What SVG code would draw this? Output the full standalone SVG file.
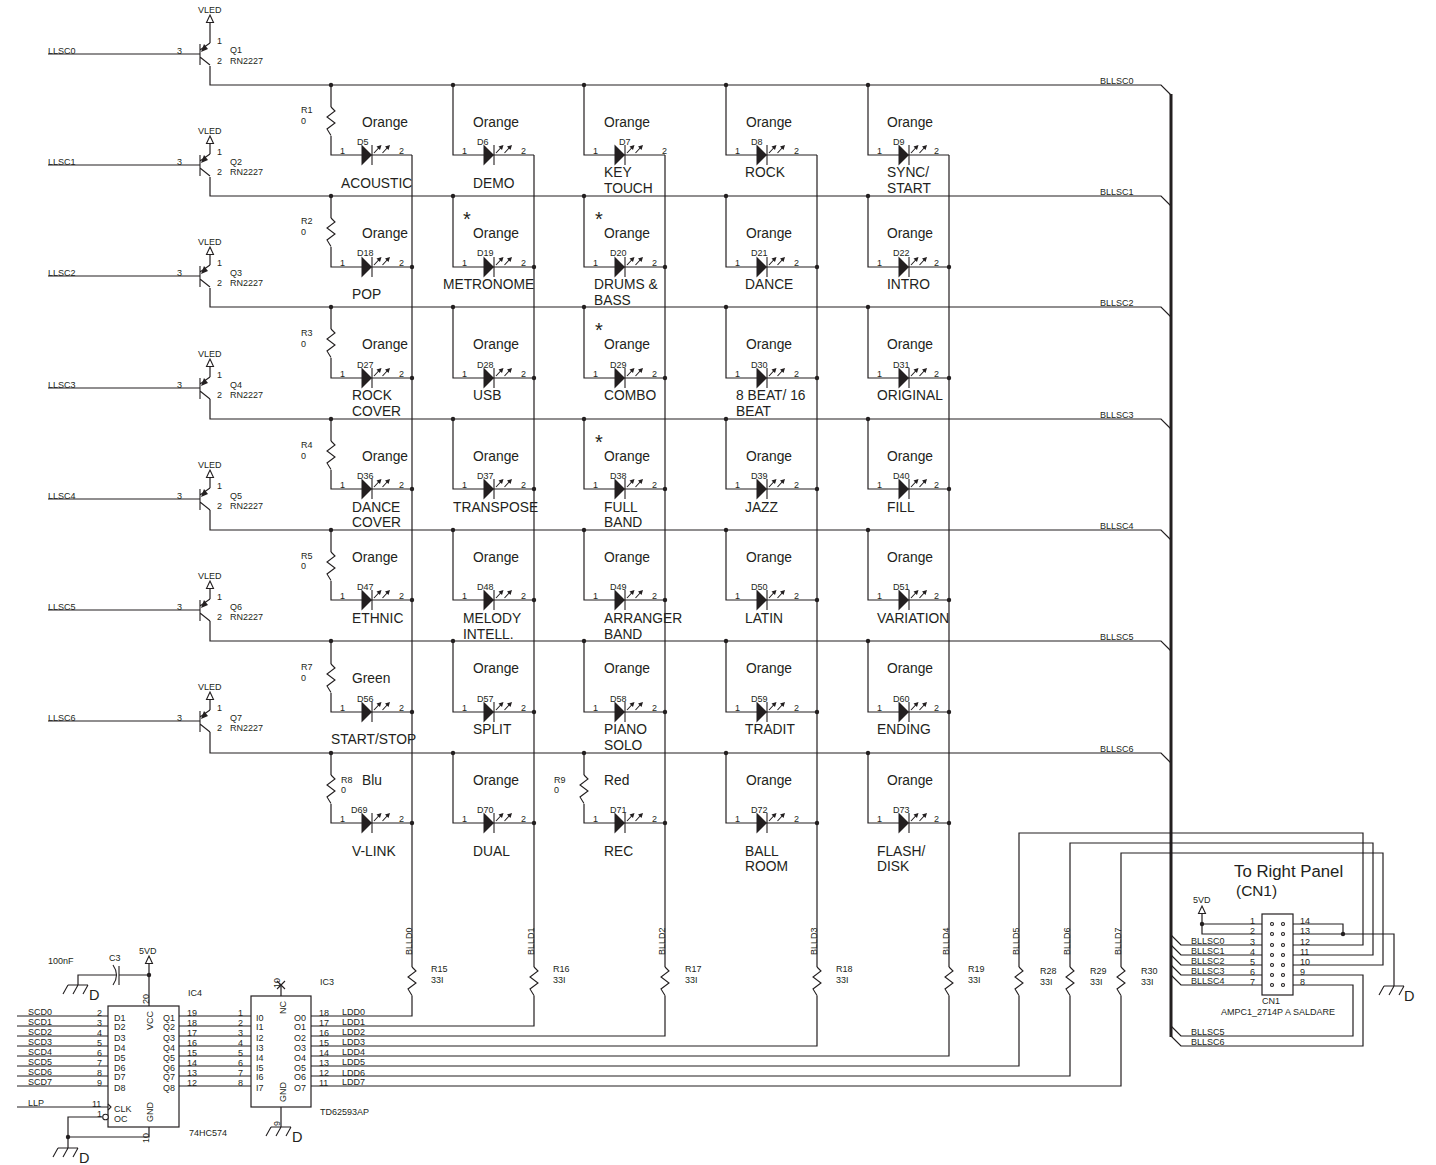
<svg xmlns="http://www.w3.org/2000/svg" width="1436" height="1165" viewBox="0 0 1436 1165">
<style>
text{font-family:"Liberation Sans",Arial,sans-serif;fill:#231f20;font-size:9px}
.l{font-size:13.8px}
.b{font-size:16.8px}
.c{font-size:15.4px}
.g{font-size:14.5px}
.st{font-size:20px}
.w,.w path{fill:none;stroke:#231f20;stroke-width:1.2}
.w path.bus{stroke-width:3}
.s{fill:none;stroke:#231f20;stroke-width:1.1}
.ic{fill:#fff;stroke:#231f20;stroke-width:1.2}
.dot{fill:#231f20}
</style>
<defs>
<g id="led"><polygon points="-0.500,-10.500 10,0 -0.500,10.500" fill="#231f20"/><path class="s" d="M10-10V10"/><path class="s" d="M12-2L18-8.500M20.500-2L26.500-8.500"/><path fill="#231f20" d="M19.500-10L14.500-8.500L18-5ZM28-10L23-8.500L26.500-5Z"/></g>
<path id="res" class="s" d="M0 0L4 4L-4 10L4 16L-4 22L0 28.5"/>
<g id="q"><path class="s" d="M0-10V11M0-4L10-11M0 3L10 11"/><polygon points="1,-2 4,-10 8,-5" fill="#231f20"/></g>
<polygon id="pwr" class="s" points="0,0 3.5,7.5 -3.5,7.5" style="fill:#fff"/>
<path id="gnd" class="s" d="M-10 0H10M-10 0L-15 9M0 0L-5 9M10 0L5 9"/>
<circle id="dot" class="dot" r="2.200"/>
</defs>

<g id="connectors" class="w">
<path d="M48 54H200M210 43V23"/>
<path d="M210 66V85H1161L1171 95"/><path d="M210 177V196H1161L1171 206"/><path d="M210 288V307H1161L1171 317"/><path d="M210 399V419H1161L1171 429"/><path d="M210 510V530H1161L1171 540"/><path d="M210 621V641H1161L1171 651"/><path d="M210 732V753H1161L1171 763"/>
<path d="M48 165H200M210 154V144M48 276H200M210 265V255M48 388H200M210 377V367M48 499H200M210 488V478M48 610H200M210 599V589M48 721H200M210 710V700"/>
<path class="bus" d="M1171 94V1037"/>
<path d="M331 85V107M331 136V155H412M331 196V218M331 247V267H412M331 307V329M331 358V378H412M331 419V441M331 470V489H412M331 530V552M331 581V600H412M331 641V664M331 693V712H412M331 753V775M331 804V823H412"/>
<path d="M453 85V155H534M453 196V267H534M453 307V378H534M453 419V489H534M453 530V600H534M453 641V712H534M453 753V823H534"/>
<path d="M584 85V155H665M584 196V267H665M584 307V378H665M584 419V489H665M584 530V600H665M584 641V712H665M584 753V775M584 804V823H665"/>
<path d="M726 85V155H817M726 196V267H817M726 307V378H817M726 419V489H817M726 530V600H817M726 641V712H817M726 753V823H817"/>
<path d="M868 85V155H949M868 196V267H949M868 307V378H949M868 419V489H949M868 530V600H949M868 641V712H949M868 753V823H949"/>
<path d="M412 155V967M412 995.5V1016H311"/>
<path d="M534 155V967M534 995.5V1026H311"/>
<path d="M665 155V967M665 995.5V1036H311"/>
<path d="M817 155V967M817 995.5V1046H311"/>
<path d="M949 155V967M949 995.5V1056H311"/>
<path d="M1019 967V833H1363V945H1293M1019 995.5V1066H311"/>
<path d="M1070 967V843H1373V955H1293M1070 995.5V1076H311"/>
<path d="M1121 967V853H1383V965H1293M1121 995.5V1086H311"/>
<path d="M17 1016H108M17 1026H108M17 1036H108M17 1046H108M17 1056H108M17 1066H108M17 1076H108M17 1086H108M17 1107H108"/>
<path d="M179 1016H251M179 1026H251M179 1036H251M179 1046H251M179 1056H251M179 1066H251M179 1076H251M179 1086H251"/>
<path d="M149 964V1006M78 985V975H116M119 975H149M102 1117H68V1148M68 1137H149V1127M281 985V996M281 1107V1127"/>
<path d="M1171 935L1181 945H1262M1171 945L1181 955H1262M1171 955L1181 965H1262M1171 965L1181 975H1262M1171 975L1181 985H1262"/>
<path d="M1171 1026L1181 1036H1353V985H1293M1171 1036L1181 1046H1363V975H1293"/>
<path d="M1202 913V934H1262M1202 924H1262M1293 924H1343V934M1293 934H1394V986"/>
</g>
<g id="junctions">
<use href="#dot" x="331" y="85"/><use href="#dot" x="453" y="85"/><use href="#dot" x="584" y="85"/><use href="#dot" x="726" y="85"/><use href="#dot" x="868" y="85"/>
<use href="#dot" x="331" y="196"/><use href="#dot" x="453" y="196"/><use href="#dot" x="584" y="196"/><use href="#dot" x="726" y="196"/><use href="#dot" x="868" y="196"/>
<use href="#dot" x="331" y="307"/><use href="#dot" x="453" y="307"/><use href="#dot" x="584" y="307"/><use href="#dot" x="726" y="307"/><use href="#dot" x="868" y="307"/>
<use href="#dot" x="331" y="419"/><use href="#dot" x="453" y="419"/><use href="#dot" x="584" y="419"/><use href="#dot" x="726" y="419"/><use href="#dot" x="868" y="419"/>
<use href="#dot" x="331" y="530"/><use href="#dot" x="453" y="530"/><use href="#dot" x="584" y="530"/><use href="#dot" x="726" y="530"/><use href="#dot" x="868" y="530"/>
<use href="#dot" x="331" y="641"/><use href="#dot" x="453" y="641"/><use href="#dot" x="584" y="641"/><use href="#dot" x="726" y="641"/><use href="#dot" x="868" y="641"/>
<use href="#dot" x="331" y="753"/><use href="#dot" x="453" y="753"/><use href="#dot" x="584" y="753"/><use href="#dot" x="726" y="753"/><use href="#dot" x="868" y="753"/>
<use href="#dot" x="412" y="267"/><use href="#dot" x="534" y="267"/><use href="#dot" x="665" y="267"/><use href="#dot" x="817" y="267"/><use href="#dot" x="949" y="267"/>
<use href="#dot" x="412" y="378"/><use href="#dot" x="534" y="378"/><use href="#dot" x="665" y="378"/><use href="#dot" x="817" y="378"/><use href="#dot" x="949" y="378"/>
<use href="#dot" x="412" y="489"/><use href="#dot" x="534" y="489"/><use href="#dot" x="665" y="489"/><use href="#dot" x="817" y="489"/><use href="#dot" x="949" y="489"/>
<use href="#dot" x="412" y="600"/><use href="#dot" x="534" y="600"/><use href="#dot" x="665" y="600"/><use href="#dot" x="817" y="600"/><use href="#dot" x="949" y="600"/>
<use href="#dot" x="412" y="712"/><use href="#dot" x="534" y="712"/><use href="#dot" x="665" y="712"/><use href="#dot" x="817" y="712"/><use href="#dot" x="949" y="712"/>
<use href="#dot" x="412" y="823"/><use href="#dot" x="534" y="823"/><use href="#dot" x="665" y="823"/><use href="#dot" x="817" y="823"/><use href="#dot" x="949" y="823"/>
<use href="#dot" x="149" y="975"/><use href="#dot" x="68" y="1137"/><use href="#dot" x="1202" y="924"/><use href="#dot" x="1343" y="934"/>
</g>
<g id="nets">
<text x="48" y="54">LLSC0</text><text x="48" y="165">LLSC1</text><text x="48" y="276">LLSC2</text><text x="48" y="388">LLSC3</text><text x="48" y="499">LLSC4</text><text x="48" y="610">LLSC5</text><text x="48" y="721">LLSC6</text>
<text x="1100" y="84">BLLSC0</text><text x="1100" y="195">BLLSC1</text><text x="1100" y="306">BLLSC2</text><text x="1100" y="418">BLLSC3</text><text x="1100" y="529">BLLSC4</text><text x="1100" y="640">BLLSC5</text><text x="1100" y="752">BLLSC6</text>
<text transform="translate(412 955) rotate(-90)">BLLD0</text><text transform="translate(534 955) rotate(-90)">BLLD1</text><text transform="translate(665 955) rotate(-90)">BLLD2</text><text transform="translate(817 955) rotate(-90)">BLLD3</text><text transform="translate(949 955) rotate(-90)">BLLD4</text><text transform="translate(1019 955) rotate(-90)">BLLD5</text><text transform="translate(1070 955) rotate(-90)">BLLD6</text><text transform="translate(1121 955) rotate(-90)">BLLD7</text>
</g>

<g id="Q1"><use href="#q" x="200" y="54"/><use href="#pwr" x="210" y="15"/><text x="198" y="13">VLED</text><text x="177" y="54">3</text><text x="217" y="44">1</text><text x="217" y="64">2</text><text x="230" y="53">Q1</text><text x="230" y="64">RN2227</text></g>
<g id="Q2"><use href="#q" x="200" y="165"/><use href="#pwr" x="210" y="136"/><text x="198" y="134">VLED</text><text x="177" y="165">3</text><text x="217" y="155">1</text><text x="217" y="175">2</text><text x="230" y="165">Q2</text><text x="230" y="175">RN2227</text></g>
<g id="Q3"><use href="#q" x="200" y="276"/><use href="#pwr" x="210" y="247"/><text x="198" y="245">VLED</text><text x="177" y="276">3</text><text x="217" y="266">1</text><text x="217" y="286">2</text><text x="230" y="276">Q3</text><text x="230" y="286">RN2227</text></g>
<g id="Q4"><use href="#q" x="200" y="388"/><use href="#pwr" x="210" y="359"/><text x="198" y="357">VLED</text><text x="177" y="388">3</text><text x="217" y="378">1</text><text x="217" y="398">2</text><text x="230" y="388">Q4</text><text x="230" y="398">RN2227</text></g>
<g id="Q5"><use href="#q" x="200" y="499"/><use href="#pwr" x="210" y="470"/><text x="198" y="468">VLED</text><text x="177" y="499">3</text><text x="217" y="489">1</text><text x="217" y="509">2</text><text x="230" y="499">Q5</text><text x="230" y="509">RN2227</text></g>
<g id="Q6"><use href="#q" x="200" y="610"/><use href="#pwr" x="210" y="581"/><text x="198" y="579">VLED</text><text x="177" y="610">3</text><text x="217" y="600">1</text><text x="217" y="620">2</text><text x="230" y="610">Q6</text><text x="230" y="620">RN2227</text></g>
<g id="Q7"><use href="#q" x="200" y="721"/><use href="#pwr" x="210" y="692"/><text x="198" y="690">VLED</text><text x="177" y="721">3</text><text x="217" y="711">1</text><text x="217" y="731">2</text><text x="230" y="721">Q7</text><text x="230" y="731">RN2227</text></g>

<g id="R1"><use href="#res" x="331" y="107"/><text x="301" y="113">R1</text><text x="301" y="124">0</text></g>
<g id="R2"><use href="#res" x="331" y="218"/><text x="301" y="224">R2</text><text x="301" y="235">0</text></g>
<g id="R3"><use href="#res" x="331" y="329"/><text x="301" y="336">R3</text><text x="301" y="347">0</text></g>
<g id="R4"><use href="#res" x="331" y="441"/><text x="301" y="448">R4</text><text x="301" y="459">0</text></g>
<g id="R5"><use href="#res" x="331" y="552"/><text x="301" y="559">R5</text><text x="301" y="569">0</text></g>
<g id="R7"><use href="#res" x="331" y="664"/><text x="301" y="670">R7</text><text x="301" y="681">0</text></g>
<g id="R8"><use href="#res" x="331" y="775"/><text x="341" y="783">R8</text><text x="341" y="793">0</text></g>
<g id="R9"><use href="#res" x="584" y="775"/><text x="554" y="783">R9</text><text x="554" y="793">0</text></g>
<g id="R15"><use href="#res" x="412" y="967"/><text x="431" y="972">R15</text><text x="431" y="983">33I</text></g>
<g id="R16"><use href="#res" x="534" y="967"/><text x="553" y="972">R16</text><text x="553" y="983">33I</text></g>
<g id="R17"><use href="#res" x="665" y="967"/><text x="685" y="972">R17</text><text x="685" y="983">33I</text></g>
<g id="R18"><use href="#res" x="817" y="967"/><text x="836" y="972">R18</text><text x="836" y="983">33I</text></g>
<g id="R19"><use href="#res" x="949" y="967"/><text x="968" y="972">R19</text><text x="968" y="983">33I</text></g>
<g id="R28"><use href="#res" x="1019" y="967"/><text x="1040" y="974">R28</text><text x="1040" y="985">33I</text></g>
<g id="R29"><use href="#res" x="1070" y="967"/><text x="1090" y="974">R29</text><text x="1090" y="985">33I</text></g>
<g id="R30"><use href="#res" x="1121" y="967"/><text x="1141" y="974">R30</text><text x="1141" y="985">33I</text></g>

<g id="D5"><use href="#led" x="362" y="155"/><text x="357" y="145">D5</text><text x="340" y="154">1</text><text x="399" y="154">2</text><text class="l" x="362" y="127">Orange</text><text class="l" x="341" y="188">ACOUSTIC</text></g>
<g id="D6"><use href="#led" x="484" y="155"/><text x="477" y="145">D6</text><text x="462" y="154">1</text><text x="521" y="154">2</text><text class="l" x="473" y="127">Orange</text><text class="l" x="473" y="188">DEMO</text></g>
<g id="D7"><use href="#led" x="615" y="155"/><text x="619" y="145">D7</text><text x="593" y="154">1</text><text x="662" y="154">2</text><text class="l" x="604" y="127">Orange</text><text class="l" x="604" y="177">KEY</text><text class="l" x="604" y="193">TOUCH</text></g>
<g id="D8"><use href="#led" x="757" y="155"/><text x="751" y="145">D8</text><text x="735" y="154">1</text><text x="794" y="154">2</text><text class="l" x="746" y="127">Orange</text><text class="l" x="745" y="177">ROCK</text></g>
<g id="D9"><use href="#led" x="899" y="155"/><text x="893" y="145">D9</text><text x="877" y="154">1</text><text x="934" y="154">2</text><text class="l" x="887" y="127">Orange</text><text class="l" x="887" y="177">SYNC/</text><text class="l" x="887" y="193">START</text></g>

<g id="D18"><use href="#led" x="362" y="267"/><text x="357" y="256">D18</text><text x="340" y="266">1</text><text x="399" y="266">2</text><text class="l" x="362" y="238">Orange</text><text class="l" x="352" y="299">POP</text></g>
<g id="D19"><use href="#led" x="484" y="267"/><text x="477" y="256">D19</text><text x="462" y="266">1</text><text x="521" y="266">2</text><text class="l" x="473" y="238">Orange</text><text class="l" x="443" y="289">METRONOME</text><text class="st" x="463" y="226">*</text></g>
<g id="D20"><use href="#led" x="615" y="267"/><text x="610" y="256">D20</text><text x="593" y="266">1</text><text x="652" y="266">2</text><text class="l" x="604" y="238">Orange</text><text class="l" x="594" y="289">DRUMS &amp;</text><text class="l" x="594" y="305">BASS</text><text class="st" x="595" y="226">*</text></g>
<g id="D21"><use href="#led" x="757" y="267"/><text x="751" y="256">D21</text><text x="735" y="266">1</text><text x="794" y="266">2</text><text class="l" x="746" y="238">Orange</text><text class="l" x="745" y="289">DANCE</text></g>
<g id="D22"><use href="#led" x="899" y="267"/><text x="893" y="256">D22</text><text x="877" y="266">1</text><text x="934" y="266">2</text><text class="l" x="887" y="238">Orange</text><text class="l" x="887" y="289">INTRO</text></g>

<g id="D27"><use href="#led" x="362" y="378"/><text x="357" y="368">D27</text><text x="340" y="377">1</text><text x="399" y="377">2</text><text class="l" x="362" y="349">Orange</text><text class="l" x="352" y="400">ROCK</text><text class="l" x="352" y="416">COVER</text></g>
<g id="D28"><use href="#led" x="484" y="378"/><text x="477" y="368">D28</text><text x="462" y="377">1</text><text x="521" y="377">2</text><text class="l" x="473" y="349">Orange</text><text class="l" x="473" y="400">USB</text></g>
<g id="D29"><use href="#led" x="615" y="378"/><text x="610" y="368">D29</text><text x="593" y="377">1</text><text x="652" y="377">2</text><text class="l" x="604" y="349">Orange</text><text class="l" x="604" y="400">COMBO</text><text class="st" x="595" y="337">*</text></g>
<g id="D30"><use href="#led" x="757" y="378"/><text x="751" y="368">D30</text><text x="735" y="377">1</text><text x="794" y="377">2</text><text class="l" x="746" y="349">Orange</text><text class="l" x="736" y="400">8 BEAT/ 16</text><text class="l" x="736" y="416">BEAT</text></g>
<g id="D31"><use href="#led" x="899" y="378"/><text x="893" y="368">D31</text><text x="877" y="377">1</text><text x="934" y="377">2</text><text class="l" x="887" y="349">Orange</text><text class="l" x="877" y="400">ORIGINAL</text></g>

<g id="D36"><use href="#led" x="362" y="489"/><text x="357" y="479">D36</text><text x="340" y="488">1</text><text x="399" y="488">2</text><text class="l" x="362" y="461">Orange</text><text class="l" x="352" y="512">DANCE</text><text class="l" x="352" y="527">COVER</text></g>
<g id="D37"><use href="#led" x="484" y="489"/><text x="477" y="479">D37</text><text x="462" y="488">1</text><text x="521" y="488">2</text><text class="l" x="473" y="461">Orange</text><text class="l" x="453" y="512">TRANSPOSE</text></g>
<g id="D38"><use href="#led" x="615" y="489"/><text x="610" y="479">D38</text><text x="593" y="488">1</text><text x="652" y="488">2</text><text class="l" x="604" y="461">Orange</text><text class="l" x="604" y="512">FULL</text><text class="l" x="604" y="527">BAND</text><text class="st" x="595" y="449">*</text></g>
<g id="D39"><use href="#led" x="757" y="489"/><text x="751" y="479">D39</text><text x="735" y="488">1</text><text x="794" y="488">2</text><text class="l" x="746" y="461">Orange</text><text class="l" x="745" y="512">JAZZ</text></g>
<g id="D40"><use href="#led" x="899" y="489"/><text x="893" y="479">D40</text><text x="877" y="488">1</text><text x="934" y="488">2</text><text class="l" x="887" y="461">Orange</text><text class="l" x="887" y="512">FILL</text></g>

<g id="D47"><use href="#led" x="362" y="600"/><text x="357" y="590">D47</text><text x="340" y="599">1</text><text x="399" y="599">2</text><text class="l" x="352" y="562">Orange</text><text class="l" x="352" y="623">ETHNIC</text></g>
<g id="D48"><use href="#led" x="484" y="600"/><text x="477" y="590">D48</text><text x="462" y="599">1</text><text x="521" y="599">2</text><text class="l" x="473" y="562">Orange</text><text class="l" x="463" y="623">MELODY</text><text class="l" x="463" y="639">INTELL.</text></g>
<g id="D49"><use href="#led" x="615" y="600"/><text x="610" y="590">D49</text><text x="593" y="599">1</text><text x="652" y="599">2</text><text class="l" x="604" y="562">Orange</text><text class="l" x="604" y="623">ARRANGER</text><text class="l" x="604" y="639">BAND</text></g>
<g id="D50"><use href="#led" x="757" y="600"/><text x="751" y="590">D50</text><text x="735" y="599">1</text><text x="794" y="599">2</text><text class="l" x="746" y="562">Orange</text><text class="l" x="745" y="623">LATIN</text></g>
<g id="D51"><use href="#led" x="899" y="600"/><text x="893" y="590">D51</text><text x="877" y="599">1</text><text x="934" y="599">2</text><text class="l" x="887" y="562">Orange</text><text class="l" x="877" y="623">VARIATION</text></g>

<g id="D56"><use href="#led" x="362" y="712"/><text x="357" y="702">D56</text><text x="340" y="711">1</text><text x="399" y="711">2</text><text class="l" x="352" y="683">Green</text><text class="l" x="331" y="744">START/STOP</text></g>
<g id="D57"><use href="#led" x="484" y="712"/><text x="477" y="702">D57</text><text x="462" y="711">1</text><text x="521" y="711">2</text><text class="l" x="473" y="673">Orange</text><text class="l" x="473" y="734">SPLIT</text></g>
<g id="D58"><use href="#led" x="615" y="712"/><text x="610" y="702">D58</text><text x="593" y="711">1</text><text x="652" y="711">2</text><text class="l" x="604" y="673">Orange</text><text class="l" x="604" y="734">PIANO</text><text class="l" x="604" y="750">SOLO</text></g>
<g id="D59"><use href="#led" x="757" y="712"/><text x="751" y="702">D59</text><text x="735" y="711">1</text><text x="794" y="711">2</text><text class="l" x="746" y="673">Orange</text><text class="l" x="745" y="734">TRADIT</text></g>
<g id="D60"><use href="#led" x="899" y="712"/><text x="893" y="702">D60</text><text x="877" y="711">1</text><text x="934" y="711">2</text><text class="l" x="887" y="673">Orange</text><text class="l" x="877" y="734">ENDING</text></g>

<g id="D69"><use href="#led" x="362" y="823"/><text x="351" y="813">D69</text><text x="340" y="822">1</text><text x="399" y="822">2</text><text class="l" x="362" y="785">Blu</text><text class="l" x="352" y="856">V-LINK</text></g>
<g id="D70"><use href="#led" x="484" y="823"/><text x="477" y="813">D70</text><text x="462" y="822">1</text><text x="521" y="822">2</text><text class="l" x="473" y="785">Orange</text><text class="l" x="473" y="856">DUAL</text></g>
<g id="D71"><use href="#led" x="615" y="823"/><text x="610" y="813">D71</text><text x="593" y="822">1</text><text x="652" y="822">2</text><text class="l" x="604" y="785">Red</text><text class="l" x="604" y="856">REC</text></g>
<g id="D72"><use href="#led" x="757" y="823"/><text x="751" y="813">D72</text><text x="735" y="822">1</text><text x="794" y="822">2</text><text class="l" x="746" y="785">Orange</text><text class="l" x="745" y="856">BALL</text><text class="l" x="745" y="871">ROOM</text></g>
<g id="D73"><use href="#led" x="899" y="823"/><text x="893" y="813">D73</text><text x="877" y="822">1</text><text x="934" y="822">2</text><text class="l" x="887" y="785">Orange</text><text class="l" x="877" y="856">FLASH/</text><text class="l" x="877" y="871">DISK</text></g>

<g id="C3"><path class="s" d="M113 965Q120 975 113 985M119 966V985"/><text x="109" y="961">C3</text><text x="48" y="964">100nF</text></g>
<g id="PWR1"><use href="#pwr" x="149" y="956"/><text x="139" y="954">5VD</text></g>
<g id="GND1"><use href="#gnd" x="78" y="985"/><text class="g" x="89" y="1000">D</text></g>
<g id="GND2"><use href="#gnd" x="68" y="1148"/><text class="g" x="79" y="1163">D</text></g>
<g id="GND3"><use href="#gnd" x="281" y="1127"/><text class="g" x="292" y="1142">D</text></g>
<g id="GND4"><use href="#gnd" x="1394" y="986"/><text class="g" x="1404" y="1001">D</text></g>

<g id="IC4">
<rect class="ic" x="108" y="1006" width="71" height="121"/>
<text x="188" y="996">IC4</text><text x="189" y="1136">74HC574</text>
<text x="28" y="1015">SCD0</text><text x="28" y="1025">SCD1</text><text x="28" y="1035">SCD2</text><text x="28" y="1045">SCD3</text><text x="28" y="1055">SCD4</text><text x="28" y="1065">SCD5</text><text x="28" y="1075">SCD6</text><text x="28" y="1085">SCD7</text><text x="28" y="1106">LLP</text>
<text x="97" y="1016">2</text><text x="97" y="1026">3</text><text x="97" y="1036">4</text><text x="97" y="1046">5</text><text x="97" y="1056">6</text><text x="97" y="1066">7</text><text x="97" y="1076">8</text><text x="97" y="1086">9</text><text x="92" y="1107">11</text><text x="97" y="1117">1</text>
<text x="114" y="1021">D1</text><text x="114" y="1030">D2</text><text x="114" y="1041">D3</text><text x="114" y="1051">D4</text><text x="114" y="1061">D5</text><text x="114" y="1071">D6</text><text x="114" y="1080">D7</text><text x="114" y="1091">D8</text><text x="114" y="1112">CLK</text><text x="114" y="1122">OC</text>
<text x="163" y="1021">Q1</text><text x="163" y="1030">Q2</text><text x="163" y="1041">Q3</text><text x="163" y="1051">Q4</text><text x="163" y="1061">Q5</text><text x="163" y="1071">Q6</text><text x="163" y="1080">Q7</text><text x="163" y="1091">Q8</text>
<text x="187" y="1016">19</text><text x="187" y="1026">18</text><text x="187" y="1036">17</text><text x="187" y="1046">16</text><text x="187" y="1056">15</text><text x="187" y="1066">14</text><text x="187" y="1076">13</text><text x="187" y="1086">12</text>
<text transform="translate(153 1030) rotate(-90)">VCC</text><text transform="translate(153 1122) rotate(-90)">GND</text><text transform="translate(149 1004) rotate(-90)">20</text><text transform="translate(149 1143) rotate(-90)">10</text>
<path class="s" d="M108 1104L111 1107L108 1110"/><circle class="s" cx="105.500" cy="1117" r="2.800" style="fill:#fff"/>
</g>

<g id="IC3">
<rect class="ic" x="251" y="996" width="60" height="111"/>
<text x="320" y="985">IC3</text><text x="320" y="1115">TD62593AP</text>
<text x="238" y="1016">1</text><text x="238" y="1026">2</text><text x="238" y="1036">3</text><text x="238" y="1046">4</text><text x="238" y="1056">5</text><text x="238" y="1066">6</text><text x="238" y="1076">7</text><text x="238" y="1086">8</text>
<text x="256" y="1021">I0</text><text x="256" y="1030">I1</text><text x="256" y="1041">I2</text><text x="256" y="1051">I3</text><text x="256" y="1061">I4</text><text x="256" y="1071">I5</text><text x="256" y="1080">I6</text><text x="256" y="1091">I7</text>
<text x="294" y="1021">O0</text><text x="294" y="1030">O1</text><text x="294" y="1041">O2</text><text x="294" y="1051">O3</text><text x="294" y="1061">O4</text><text x="294" y="1071">O5</text><text x="294" y="1080">O6</text><text x="294" y="1091">O7</text>
<text x="319" y="1016">18</text><text x="319" y="1026">17</text><text x="319" y="1036">16</text><text x="319" y="1046">15</text><text x="319" y="1056">14</text><text x="319" y="1066">13</text><text x="319" y="1076">12</text><text x="319" y="1086">11</text>
<text x="342" y="1015">LDD0</text><text x="342" y="1025">LDD1</text><text x="342" y="1035">LDD2</text><text x="342" y="1045">LDD3</text><text x="342" y="1055">LDD4</text><text x="342" y="1065">LDD5</text><text x="342" y="1076">LDD6</text><text x="342" y="1085">LDD7</text>
<text transform="translate(286 1014) rotate(-90)">NC</text><text transform="translate(286 1102) rotate(-90)">GND</text><text transform="translate(280 988) rotate(-90)">10</text><text transform="translate(280 1126) rotate(-90)">9</text>
<path class="s" d="M277 981L285 989M285 981L277 989"/>
</g>

<g id="CN1">
<rect class="ic" x="1262" y="914" width="31" height="81"/>
<g class="s"><circle cx="1272" cy="924" r="1.500"/><circle cx="1283" cy="924" r="1.500"/><circle cx="1272" cy="934" r="1.500"/><circle cx="1283" cy="934" r="1.500"/><circle cx="1272" cy="945" r="1.500"/><circle cx="1283" cy="945" r="1.500"/><circle cx="1272" cy="955" r="1.500"/><circle cx="1283" cy="955" r="1.500"/><circle cx="1272" cy="965" r="1.500"/><circle cx="1283" cy="965" r="1.500"/><circle cx="1272" cy="975" r="1.500"/><circle cx="1283" cy="975" r="1.500"/><circle cx="1272" cy="985" r="1.500"/><circle cx="1283" cy="985" r="1.500"/></g>
<text x="1250" y="924">1</text><text x="1250" y="934">2</text><text x="1250" y="945">3</text><text x="1250" y="955">4</text><text x="1250" y="965">5</text><text x="1250" y="975">6</text><text x="1250" y="985">7</text>
<text x="1300" y="924">14</text><text x="1300" y="934">13</text><text x="1300" y="945">12</text><text x="1300" y="955">11</text><text x="1300" y="965">10</text><text x="1300" y="975">9</text><text x="1300" y="985">8</text>
<text x="1191" y="944">BLLSC0</text><text x="1191" y="954">BLLSC1</text><text x="1191" y="964">BLLSC2</text><text x="1191" y="974">BLLSC3</text><text x="1191" y="984">BLLSC4</text><text x="1191" y="1035">BLLSC5</text><text x="1191" y="1045">BLLSC6</text>
<text x="1262" y="1004">CN1</text><text x="1221" y="1015">AMPC1_2714P A SALDARE</text>
<text class="b" x="1234" y="877">To Right Panel</text><text class="c" x="1236" y="896">(CN1)</text>
<use href="#pwr" x="1202" y="906"/><text x="1193" y="903">5VD</text>
</g>
</svg>
